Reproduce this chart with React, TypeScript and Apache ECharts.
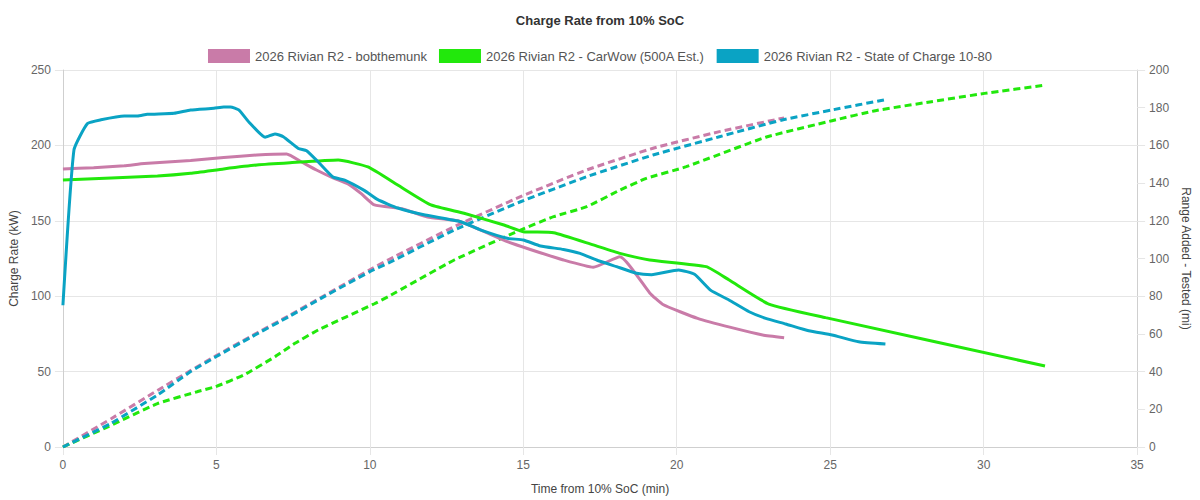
import React, { useEffect, useRef } from "react";
import * as echarts from "echarts";

const title = "Charge Rate from 10% SoC";
const seriesNames = [
  "2026 Rivian R2 - bobthemunk",
  "2026 Rivian R2 - CarWow (500A Est.)",
  "2026 Rivian R2 - State of Charge 10-80",
];
const colors = ["#c97ba8", "#22e80c", "#0aa3c4"];

// [minutes, kW]
const bobPower: [number, number][] = [
  [0, 184.4], [1, 185.2], [2, 186.5], [2.65, 188], [4.16, 190], [5.24, 191.9], [6.32, 193.6],
  [7.29, 194.3], [7.78, 189], [8.26, 183.7], [8.8, 178.5], [9.29, 174.5], [9.72, 168],
  [10.15, 160.5], [11.05, 158], [11.88, 152.5], [12.86, 150], [13.6, 144], [14.48, 136.2],
  [15.23, 131], [16.31, 124], [17.28, 119.2], [18.15, 126.2], [19.12, 102.2], [19.55, 94.5],
  [20.68, 85.3], [21.76, 79.3], [22.8, 74.3], [23.5, 72.5],
];
const carwowPower: [number, number][] = [
  [0, 177], [3.08, 179.7], [4.16, 181.5], [5.24, 184.4], [6.32, 187], [7.4, 188.5],
  [8.97, 190.3], [9.94, 185.7], [10.91, 173.7], [11.99, 160.5], [13.07, 155], [14.37, 147.2],
  [15.0, 142.8], [15.99, 142.1], [17.28, 134], [18.15, 128.4], [19.12, 124], [20.96, 119.6],
  [21.71, 110.7], [23.0, 94.8], [24.85, 85.8], [32, 53.7],
];
const socPower: [number, number][] = [
  [0, 94], [0.36, 197], [0.8, 214.5], [1.24, 217], [2.0, 219.5], [2.43, 219.5], [2.75, 220.6],
  [3.62, 221.3], [4.16, 223.5], [4.92, 224.6], [5.24, 225.5], [5.46, 225.5], [5.73, 223.5],
  [6.05, 215.7], [6.59, 205.4], [6.91, 207.6], [7.18, 205.8], [7.67, 198], [7.94, 196.5],
  [8.32, 189], [8.8, 179], [9.18, 177], [9.83, 170], [10.26, 164], [10.91, 158.5], [11.8, 153.8],
  [12.96, 149.4], [13.6, 144], [14.48, 138.4], [15.0, 137.3], [15.56, 133.3], [16.31, 131],
  [16.85, 128.4], [17.39, 124], [18.04, 119.6], [18.69, 115.2], [19.18, 114.3], [20.06, 117.4],
  [20.58, 114.5], [21.1, 104], [21.7, 97.5], [22.36, 89.7], [22.9, 85.3], [23.55, 81.6],
  [24.3, 77.1], [25.06, 74.3], [25.93, 69.8], [26.8, 68.3],
];

// [minutes, miles]
const bobRange: [number, number][] = [
  [0, 0], [1.57, 15], [3.08, 30], [4.16, 40.5], [5.0, 48.5], [6.1, 58.5], [7.4, 70], [8.48, 80],
  [10, 94], [10.59, 99.2], [12.75, 116.9], [14.91, 132.8], [17.07, 147], [19.23, 158.5],
  [21.39, 167.3], [23.5, 174.6],
];
const carwowRange: [number, number][] = [
  [0, 0], [1.5, 11], [3.08, 23], [4.37, 29.3], [4.97, 32], [5.89, 38.2], [6.91, 47.9],
  [7.56, 55], [8.32, 62.1], [10.15, 76], [10.59, 79.7], [12.75, 99.2], [14.91, 115.1],
  [15.99, 122.2], [17.07, 127.5], [18.15, 136.3], [19.01, 142.5], [20.31, 148.7], [22.9, 164.3],
  [25.06, 173.1], [26.47, 178.4], [28.3, 183.2], [30.03, 187.6], [32.03, 192],
];
const socRange: [number, number][] = [
  [0, 0], [1.57, 12.6], [3.08, 27.6], [4.16, 40], [5.0, 48], [6.1, 58], [7.4, 69.5], [8.48, 79.5],
  [10, 93], [10.59, 97.5], [12.75, 115.1], [14.91, 130.1], [17.07, 143.4], [19.23, 154.9],
  [21.39, 164.6], [23.44, 173.5], [25.06, 178.8], [26.84, 184.4],
];

const xAxisName = "Time from 10% SoC (min)";
const leftAxisName = "Charge Rate (kW)";
const rightAxisName = "Range Added - Tested (mi)";

const FONT = "'Liberation Sans', Arial, Helvetica, sans-serif";
const GRID = "#e6e6e6";
const AXIS = "#cfcfcf";

export default function App() {
  const ref = useRef<HTMLDivElement>(null);
  useEffect(() => {
    if (!ref.current) return;
    const chart = echarts.init(ref.current, undefined, { renderer: "svg" });
    const solid = (name: string, data: [number, number][], color: string) => ({
      name,
      type: "line",
      data,
      yAxisIndex: 0,
      showSymbol: false,
      symbol: "none",
      smooth: 0.15,
      lineStyle: { width: 3, color },
      itemStyle: { color },
      z: 3,
    });
    const dashed = (name: string, data: [number, number][], color: string) => ({
      name: name + " (range)",
      type: "line",
      data,
      yAxisIndex: 1,
      showSymbol: false,
      symbol: "none",
      smooth: 0.15,
      lineStyle: { width: 3, color, type: [7, 4] },
      itemStyle: { color },
      z: 2,
    });
    chart.setOption({
      animation: false,
      backgroundColor: "#ffffff",
      textStyle: { fontFamily: FONT },
      title: {
        text: title,
        left: "center",
        top: 9,
        textStyle: { fontSize: 13, fontWeight: "bold", color: "#333", fontFamily: FONT },
      },
      legend: {
        top: 44,
        left: "center",
        data: seriesNames,
        icon: "rect",
        itemWidth: 42,
        itemHeight: 14,
        itemGap: 12,
        textStyle: { fontSize: 13, color: "#555", fontFamily: FONT },
      },
      grid: { left: 60, right: 60, top: 70, bottom: 53, containLabel: false },
      xAxis: {
        type: "value",
        min: 0,
        max: 35,
        interval: 5,
        name: xAxisName,
        nameLocation: "middle",
        nameGap: 36,
        nameTextStyle: { fontSize: 12, color: "#444", fontFamily: FONT },
        axisLine: { show: true, lineStyle: { color: AXIS } },
        axisTick: { show: true, length: 8, lineStyle: { color: GRID } },
        axisLabel: { fontSize: 12, color: "#666", margin: 12, fontFamily: FONT },
        splitLine: { show: true, lineStyle: { color: GRID } },
      },
      yAxis: [
        {
          type: "value",
          min: 0,
          max: 250,
          interval: 50,
          position: "left",
          name: leftAxisName,
          nameLocation: "middle",
          nameGap: 40,
          nameRotate: 90,
          nameTextStyle: { fontSize: 12, color: "#444", fontFamily: FONT },
          axisLine: { show: true, lineStyle: { color: AXIS } },
          axisTick: { show: true, length: 8, lineStyle: { color: GRID } },
          axisLabel: { fontSize: 12, color: "#666", margin: 12, fontFamily: FONT },
          splitLine: { show: true, lineStyle: { color: GRID } },
        },
        {
          type: "value",
          min: 0,
          max: 200,
          interval: 20,
          position: "right",
          name: rightAxisName,
          nameLocation: "middle",
          nameGap: 42,
          nameRotate: -90,
          nameTextStyle: { fontSize: 12, color: "#444", fontFamily: FONT },
          axisLine: { show: true, lineStyle: { color: AXIS } },
          axisTick: { show: true, length: 8, lineStyle: { color: GRID } },
          axisLabel: { fontSize: 12, color: "#666", margin: 12, fontFamily: FONT },
          splitLine: { show: false },
        },
      ],
      series: [
        solid(seriesNames[0], bobPower, colors[0]),
        solid(seriesNames[1], carwowPower, colors[1]),
        solid(seriesNames[2], socPower, colors[2]),
        dashed(seriesNames[0], bobRange, colors[0]),
        dashed(seriesNames[1], carwowRange, colors[1]),
        dashed(seriesNames[2], socRange, colors[2]),
      ],
    });
    return () => chart.dispose();
  }, []);
  return (
    <div
      ref={ref}
      style={{ position: "absolute", left: 0, top: 0, width: 1200, height: 500, background: "#fff" }}
    />
  );
}
